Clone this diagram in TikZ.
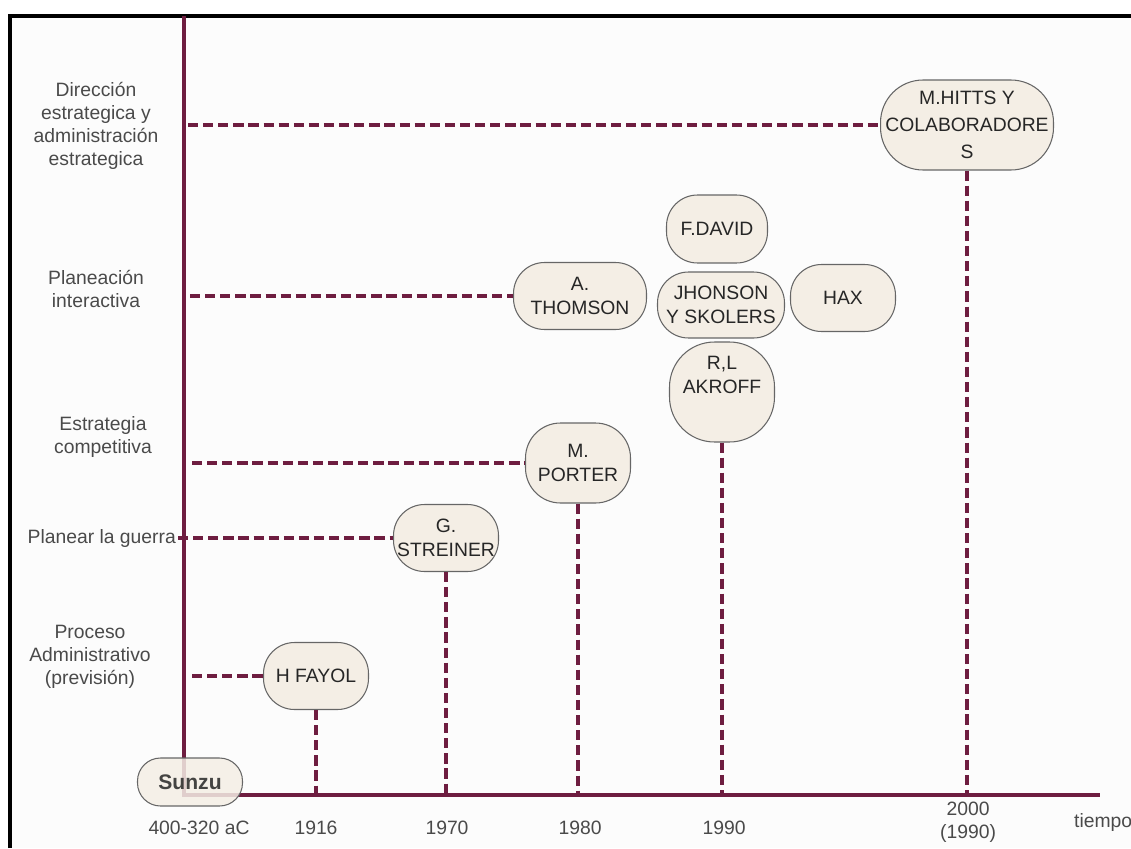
\documentclass[tikz,border=0pt]{standalone}
\usepackage{fontspec}
\setmainfont{Liberation Sans}
\usetikzlibrary{positioning}
\definecolor{vino}{HTML}{6E1D40}
\definecolor{crema}{HTML}{F4EEE5}
\definecolor{gristxt}{HTML}{4A4A4A}

\begin{document}
\begin{tikzpicture}[x=0.02cm, y=-0.02cm,
    box/.style={draw=black!60, line width=0.6pt, fill=crema, rounded corners=0.62cm, align=center,
      font=\fontsize{11}{13.5}\selectfont, text=black!85, inner sep=1pt, minimum width=2.1cm, minimum height=1.34cm},
    lbl/.style={align=center, font=\fontsize{11}{13}\selectfont, text=gristxt},
    guide/.style={draw=vino, line width=2pt, dash pattern=on 5.8pt off 2.8pt},
    axis/.style={draw=vino, line width=2.3pt},
  ]
  \useasboundingbox (0,0) rectangle (1131,848);
  \fill[white] (0,0) rectangle (1131,848);
  \fill[black!1] (10,16) rectangle (1131,848);
  \draw[line width=2.2pt] (10,848) -- (10,16) -- (1131,16);

  % ejes
  \coordinate (o) at (184,795);
  \coordinate (ytop) at (184,16);
  \coordinate (xend) at (1100,795);
  \draw[axis] (ytop) -- (o) -- (xend);

  % autores
  \node[box, font=\fontsize{12}{14}\selectfont\bfseries, minimum width=2.1cm, minimum height=0.96cm,
    rounded corners=0.46cm, fill opacity=0.85] (sunzu) at (190,782) {Sunzu};
  \node[box] (fayol) at (316,676) {H FAYOL};
  \node[box] (streiner) at (446,538) {G.\\STREINER};
  \node[box, minimum height=1.6cm, rounded corners=0.7cm] (porter) at (578,463) {M.\\PORTER};
  \node[box, minimum width=2.66cm] (thomson) at (580,296) {A.\\THOMSON};
  \node[box, minimum width=2.02cm, minimum height=1.36cm] (fdavid) at (717,229) {F.DAVID};
  \node[box, minimum width=2.54cm, minimum height=1.32cm] (jhonson) at (721,305) {JHONSON\\Y SKOLERS};
  \node[box] (hax) at (843,298) {HAX};
  \node[box, minimum height=2cm, rounded corners=0.9cm] (akroff) at (722,392) {R,L\\AKROFF\\[6pt]};
  \node[box, minimum width=3.46cm, minimum height=1.8cm, rounded corners=0.85cm,
    font=\fontsize{11}{15.5}\selectfont] (hitts) at (967,125) {M.HITTS Y\\COLABORADORE\\S};

  % etapas
  \node[lbl] (direccion) at (96,126) {Dirección\\estrategica y\\administración\\estrategica};
  \node[lbl] (planeacion) at (96,289) {Planeación\\interactiva};
  \node[lbl] (estrategia) at (103,437) {Estrategia\\competitiva};
  \node[lbl, anchor=east, inner sep=1pt] (guerra) at (178,538) {Planear la guerra};
  \node[lbl] (proceso) at (90,657) {Proceso\\Administrativo\\(previsión)};

  % guias horizontales
  \draw[guide] ([xshift=0.08cm]hitts.west -| o) -- (hitts.west);
  \draw[guide] ([xshift=0.12cm]thomson.west -| o) -- (thomson.west);
  \draw[guide] ([xshift=0.16cm]porter.west -| o) -- (porter.west);
  \draw[guide] (guerra.east) -- (streiner.west);
  \draw[guide] ([xshift=0.16cm]fayol.west -| o) -- (fayol.west);

  % guias verticales
  \draw[guide] (fayol.south) -- (fayol.south |- o);
  \draw[guide] (streiner.south) -- (streiner.south |- o);
  \draw[guide] (porter.south) -- (porter.south |- o);
  \draw[guide] (akroff.south) -- (akroff.south |- o);
  \draw[guide] (hitts.south) -- (hitts.south |- o);

  % anios
  \node[lbl] (a400) at (199,828) {400-320 aC};
  \node[lbl] (a1916) at (316,828) {1916};
  \node[lbl] (a1970) at (447,828) {1970};
  \node[lbl] (a1980) at (580,828) {1980};
  \node[lbl] (a1990) at (724,828) {1990};
  \node[lbl] (a2000) at (968,822) {2000\\(1990)};
  \node[lbl, anchor=west] (tiempo) at (1068,822) {tiempo};
\end{tikzpicture}
\end{document}
